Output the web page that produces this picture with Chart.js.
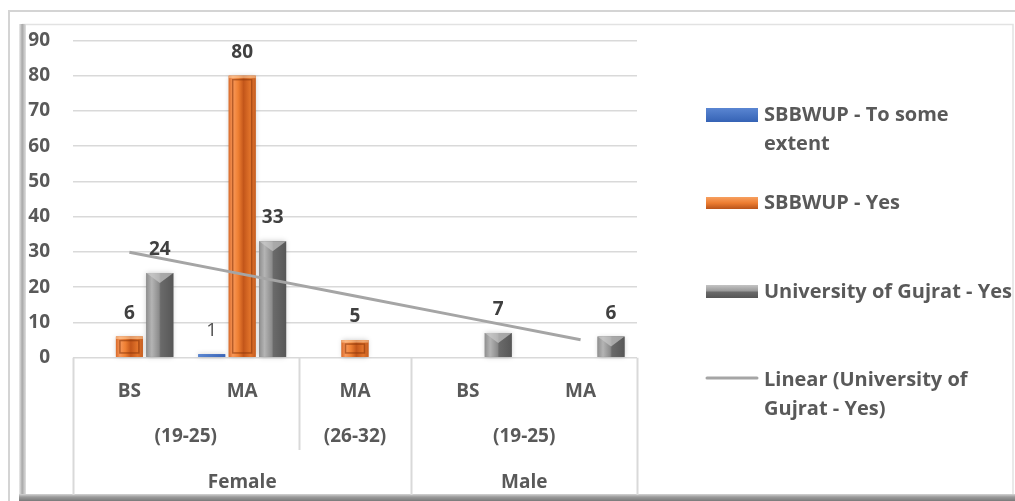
<!DOCTYPE html>
<html>
<head>
<meta charset="utf-8">
<script src="https://cdn.jsdelivr.net/npm/chart.js@4.4.1/dist/chart.umd.min.js"></script>
<style>
  html, body { margin: 0; padding: 0; background: #fff; overflow: hidden; }
  canvas { display: block; }
</style>
</head>
<body>
<canvas id="chart" width="1015" height="501"></canvas>
<script>
// Category levels (innermost first)
const programs = ['BS', 'MA', 'MA', 'BS', 'MA'];
const ageGroups = [
  { label: '(19-25)', from: 0, to: 1 },
  { label: '(26-32)', from: 2, to: 2 },
  { label: '(19-25)', from: 3, to: 4 }
];
const genders = [
  { label: 'Female', from: 0, to: 2 },
  { label: 'Male', from: 3, to: 4 }
];

// Series
const sbbwupSomeExtent = [null, 1, null, null, null];
const sbbwupYes = [6, 80, 5, null, null];
const gujratYes = [24, 33, null, 7, 6];
const gujratYesTrend = [29.9, 23.7, 17.5, 11.3, 5.1];

// Value axis
const yMin = 0;
const yMax = 90;
const yStep = 10;

const FONT = '"Open Sans", Lato, "DejaVu Sans", sans-serif';
const FS = 19;
const LEGEND_FS = 20;
const TEXT = '#595959';
const GRID = '#d9d9d9';

// Page frame with the soft inner shadow
const framePlugin = {
  id: 'frame',
  beforeDraw(chart) {
    const c = chart.ctx;
    c.save();
    c.fillStyle = '#fff';
    c.fillRect(0, 0, chart.width, chart.height);
    c.strokeStyle = '#d4d4d4';
    c.lineWidth = 2;
    c.beginPath();
    c.moveTo(9, 501); c.lineTo(9, 11); c.lineTo(1015, 11);
    c.stroke();
    c.strokeStyle = '#e2e2e2';
    c.lineWidth = 1.5;
    c.beginPath();
    c.moveTo(22, 24.5); c.lineTo(1013, 24.5); c.lineTo(1013, 497);
    c.stroke();
    let g = c.createLinearGradient(19, 0, 26, 0);
    g.addColorStop(0, '#ececec'); g.addColorStop(0.45, '#a8a8a8'); g.addColorStop(1, '#e0e0e0');
    c.fillStyle = g;
    c.fillRect(19, 24, 7, 477);
    g = c.createLinearGradient(0, 493, 0, 501);
    g.addColorStop(0, '#e8e8e8'); g.addColorStop(0.5, '#9a9a9a'); g.addColorStop(1, '#7a7a7a');
    c.fillStyle = g;
    c.fillRect(19, 494, 996, 7);
    c.restore();
  }
};

// Bevelled bar faces painted over each bar's geometry
const barShadePlugin = {
  id: 'barShade',
  afterDatasetDraw(chart, args) {
    const meta = args.meta;
    if (meta.type !== 'bar') return;
    const c = chart.ctx;
    const values = chart.data.datasets[args.index].data;
    meta.data.forEach((el, i) => {
      if (values[i] == null) return;
      const p = el.getProps(['x', 'y', 'base', 'width'], true);
      const left = p.x - p.width / 2, w = p.width, top = p.y, h = p.base - p.y;
      c.save();
      c.shadowColor = 'rgba(0,0,0,0.22)';
      c.shadowBlur = 5;
      let g = c.createLinearGradient(left, 0, left + w, 0);
      if (args.index === 0) {
        g.addColorStop(0, '#5a86d2'); g.addColorStop(1, '#3b66b8');
        c.fillStyle = g;
        c.fillRect(left, top, w, h);
      } else if (args.index === 1) {
        g.addColorStop(0, '#d96a2a'); g.addColorStop(0.15, '#f8985a');
        g.addColorStop(0.35, '#ef8033'); g.addColorStop(0.55, '#c3561a');
        g.addColorStop(0.8, '#e2742b'); g.addColorStop(1, '#c65f22');
        c.fillStyle = g;
        c.fillRect(left, top, w, h);
        c.shadowBlur = 0;
        const inset = Math.min(4, h / 4);
        c.strokeStyle = 'rgba(140,55,10,0.6)';
        c.lineWidth = 1.5;
        c.strokeRect(left + inset, top + inset, w - 2 * inset, h - 2 * inset);
        c.fillStyle = 'rgba(255,214,170,0.55)';
        c.fillRect(left, top, w, Math.min(2.5, h / 4));
      } else {
        g.addColorStop(0, '#8f8f8f'); g.addColorStop(0.2, '#b4b4b4');
        g.addColorStop(0.47, '#8c8c8c'); g.addColorStop(0.53, '#6a6a6a');
        g.addColorStop(1, '#575757');
        c.fillStyle = g;
        c.fillRect(left, top, w, h);
        c.shadowBlur = 0;
        c.fillStyle = 'rgba(205,205,205,0.65)';
        c.beginPath();
        c.moveTo(left, top); c.lineTo(left + w, top);
        c.lineTo(left + w / 2, top + Math.min(10, h / 2));
        c.closePath();
        c.fill();
      }
      c.restore();
    });
  }
};

// Three-level category axis drawn as a table under the plot
const categoryAxisPlugin = {
  id: 'categoryAxis',
  afterDraw(chart) {
    const c = chart.ctx;
    const x = chart.scales.x;
    const base = chart.chartArea.bottom;
    const step = x.getPixelForValue(1) - x.getPixelForValue(0);
    const edge = i => x.getPixelForValue(i) - step / 2;
    const bottom = 495;
    const ageBottom = 450;
    c.save();
    c.strokeStyle = GRID;
    c.lineWidth = 2;
    const full = new Set();
    genders.forEach(g => { full.add(g.from); full.add(g.to + 1); });
    const partial = new Set();
    ageGroups.forEach(a => { [a.from, a.to + 1].forEach(k => { if (!full.has(k)) partial.add(k); }); });
    c.beginPath();
    full.forEach(k => { const px = Math.round(edge(k)) + 0.5; c.moveTo(px, base); c.lineTo(px, bottom); });
    partial.forEach(k => { const px = Math.round(edge(k)) + 0.5; c.moveTo(px, base); c.lineTo(px, ageBottom); });
    c.stroke();

    c.fillStyle = TEXT;
    c.font = 'bold ' + FS + 'px ' + FONT;
    c.textAlign = 'center';
    c.textBaseline = 'alphabetic';
    programs.forEach((p, i) => c.fillText(p, x.getPixelForValue(i), 397));
    ageGroups.forEach(a => c.fillText(a.label, (edge(a.from) + edge(a.to + 1)) / 2, 442));
    genders.forEach(g => c.fillText(g.label, (edge(g.from) + edge(g.to + 1)) / 2, 488));
    c.restore();
  }
};

// Value labels above bars
const valueLabelPlugin = {
  id: 'valueLabels',
  afterDraw(chart) {
    const c = chart.ctx;
    c.save();
    c.textAlign = 'center';
    c.textBaseline = 'alphabetic';
    chart.data.datasets.forEach((ds, di) => {
      if (ds.type === 'line') return;
      const meta = chart.getDatasetMeta(di);
      c.font = (di === 0 ? '' : 'bold ') + FS + 'px ' + FONT;
      c.fillStyle = di === 0 ? '#505050' : '#404040';
      meta.data.forEach((el, i) => {
        const v = ds.data[i];
        if (v == null) return;
        c.fillText(String(v), el.x, el.y - 18);
      });
    });
    c.restore();
  }
};

// Legend on the right
const legendPlugin = {
  id: 'sideLegend',
  afterDraw(chart) {
    const c = chart.ctx;
    const ds = chart.data.datasets;
    const sx = 706, sw = 52, tx = 764;
    c.save();
    c.font = 'bold ' + LEGEND_FS + 'px ' + FONT;
    c.textAlign = 'left';
    c.textBaseline = 'alphabetic';

    // swatches
    let g = c.createLinearGradient(0, 108, 0, 122);
    g.addColorStop(0, '#5a86d2'); g.addColorStop(1, '#3563b5');
    c.fillStyle = g; c.fillRect(sx, 108, sw, 14);
    g = c.createLinearGradient(0, 197, 0, 209);
    g.addColorStop(0, '#f7a060'); g.addColorStop(0.5, '#ed7d31'); g.addColorStop(1, '#b9541a');
    c.fillStyle = g; c.fillRect(sx, 197, sw, 12);
    g = c.createLinearGradient(0, 285, 0, 298);
    g.addColorStop(0, '#c4c4c4'); g.addColorStop(0.45, '#9a9a9a'); g.addColorStop(0.55, '#6a6a6a'); g.addColorStop(1, '#555');
    c.fillStyle = g; c.fillRect(sx, 285, sw, 13);
    c.strokeStyle = ds[3].borderColor; c.lineWidth = 3; c.lineCap = 'round';
    c.beginPath(); c.moveTo(sx + 1, 378); c.lineTo(sx + sw - 1, 378); c.stroke();

    c.fillStyle = TEXT;
    const rows = [
      { lines: ['SBBWUP - To some', 'extent'], y: 121 },
      { lines: [ds[1].label], y: 209 },
      { lines: [ds[2].label], y: 298 },
      { lines: ['Linear (University of', 'Gujrat - Yes)'], y: 386 }
    ];
    rows.forEach(r => r.lines.forEach((t, k) => c.fillText(t, tx, r.y + k * 29)));
    c.restore();
  }
};

new Chart(document.getElementById('chart'), {
  data: {
    labels: programs,
    datasets: [
      { type: 'bar', label: 'SBBWUP - To some extent', data: sbbwupSomeExtent, backgroundColor: '#4472c4', order: 1 },
      { type: 'bar', label: 'SBBWUP - Yes', data: sbbwupYes, backgroundColor: '#ed7d31', order: 1 },
      { type: 'bar', label: 'University of Gujrat - Yes', data: gujratYes, backgroundColor: '#7f7f7f', order: 1 },
      { type: 'line', label: 'Linear (University of Gujrat - Yes)', data: gujratYesTrend,
        borderColor: '#a5a5a5', borderWidth: 3, pointRadius: 0, fill: false, tension: 0, order: 0 }
    ]
  },
  options: {
    responsive: false,
    animation: false,
    events: [],
    categoryPercentage: 0.81,
    barPercentage: 0.885,
    layout: { padding: { top: 40.4, right: 378, bottom: 143.3, left: 0 } },
    plugins: { legend: { display: false }, tooltip: { enabled: false } },
    scales: {
      x: { display: false, offset: true },
      y: {
        min: yMin, max: yMax,
        ticks: { stepSize: yStep, color: TEXT, font: { family: FONT, size: FS, weight: 'bold' }, padding: 23 },
        grid: { color: GRID, lineWidth: 1.5, drawTicks: false },
        border: { display: false },
        afterFit(s) { s.width = 73; }
      }
    }
  },
  plugins: [framePlugin, barShadePlugin, categoryAxisPlugin, valueLabelPlugin, legendPlugin]
});
</script>
</body>
</html>
